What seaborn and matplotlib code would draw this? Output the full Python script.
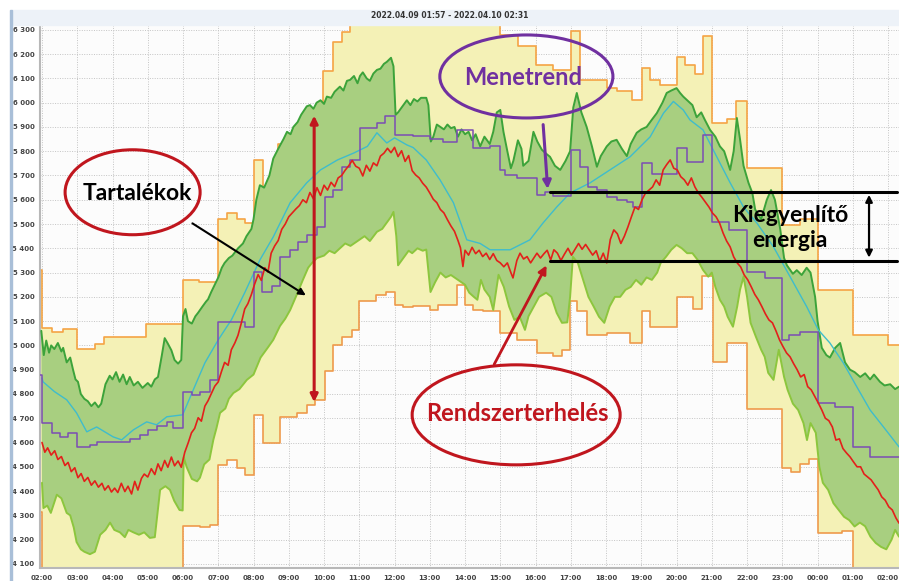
import numpy as np
import matplotlib
matplotlib.use("Agg")
import matplotlib.pyplot as plt
from matplotlib.patches import Ellipse, Rectangle
import seaborn as sns

# idő: órák 2022.04.09 02:00-tól, érték: MW
ido_cimkek = ["02:00", "03:00", "04:00", "05:00", "06:00", "07:00", "08:00", "09:00",
              "10:00", "11:00", "12:00", "13:00", "14:00", "15:00", "16:00", "17:00",
              "18:00", "19:00", "20:00", "21:00", "22:00", "23:00", "00:00", "01:00", "02:00"]
y_tickek = list(range(4100, 6301, 100))

T_START, T_END = -0.057, 24.31

# tartalék felső határ (lépcsős)
felso_t = [-0.06, 0.0, 0.27, 0.6, 1.0, 1.5, 1.75, 2.95, 4.0, 4.45, 5.0, 5.24, 5.52, 5.76,
           6.0, 6.27, 6.52, 6.7, 6.98, 7.32, 7.52, 7.97, 8.26, 8.51, 8.74, 13.0, 13.5,
           14.0, 14.5, 15.0, 15.26, 16.03, 16.3, 16.75, 17.02, 17.25, 17.53, 18.0, 18.24,
           18.52, 18.75, 19.0, 19.43, 19.7, 20.0, 21.0, 21.5, 22.0, 23.0, 24.0]
felso_mw = [5311, 5072, 5055, 5068, 4984, 5004, 5035, 5089, 5270, 5262, 5520, 5545, 5520, 5504,
            5762, 5649, 5711, 5830, 5860, 5902, 5950, 6132, 6252, 6293, 6400, 6279, 6234,
            6156, 6135, 6297, 6094, 6060, 6047, 6012, 6143, 6094, 6073, 6190, 6156,
            6119, 6275, 5918, 5933, 6005, 5730, 5495, 5520, 5229, 5043, 5002]

# tartalék alsó határ (lépcsős)
also_t = [-0.06, 0.0, 4.0, 4.48, 4.77, 5.0, 5.24, 5.52, 5.76, 6.0, 6.27, 6.75, 7.23, 7.52,
          7.74, 8.03, 8.26, 8.51, 8.79, 9.0, 9.48, 9.77, 10.0, 10.24, 10.52, 11.0, 11.23,
          11.77, 12.0, 12.23, 12.51, 13.0, 13.47, 14.04, 14.5, 14.75, 14.98, 15.18, 15.46,
          16.03, 16.68, 17.02, 17.25, 18.0, 18.48, 18.72, 19.02, 19.43, 20.0, 21.0, 21.25,
          21.5, 21.75, 22.0, 22.7, 23.0]
also_mw = [4315, 4000, 4256, 4250, 4260, 4508, 4526, 4497, 4467, 4714, 4600, 4705, 4722, 4755,
           4776, 4896, 5002, 5036, 5064, 5181, 5208, 5222, 5167, 5160, 5163, 5146, 5167,
           5249, 5167, 5146, 5140, 5050, 5023, 4968, 4957, 4982, 5181, 5140, 5043,
           5050, 5010, 5140, 5077, 5200, 5150, 5284, 4932, 5010, 4736, 4495, 4480,
           4510, 4530, 4228, 4236, 4000]

# felső szabályozási sáv (sötétzöld)
zold_t = [-0.02, 0.05, 0.12, 0.2, 0.26, 0.35, 0.45, 0.55, 0.6, 0.7, 0.8, 0.88, 0.95, 1.02,
          1.1, 1.2, 1.3, 1.4, 1.5, 1.6, 1.68, 1.8, 1.92, 2.0, 2.1, 2.2, 2.3, 2.4, 2.49, 2.6,
          2.72, 2.85, 3.0, 3.1, 3.2, 3.29, 3.4, 3.48, 3.56, 3.67, 3.76, 3.86, 3.95, 4.0,
          4.07, 4.14, 4.25, 4.35, 4.43, 4.55, 4.65, 4.71, 4.8, 4.9, 5.0, 5.1, 5.18, 5.3,
          5.4, 5.56, 5.7, 5.8, 5.94, 6.0, 6.08, 6.18, 6.3, 6.45, 6.56, 6.7, 6.85, 6.95,
          7.05, 7.13, 7.25, 7.35, 7.51, 7.6, 7.7, 7.79, 7.9, 8.0, 8.08, 8.2, 8.3, 8.45,
          8.55, 8.65, 8.74, 8.85, 8.95, 9.02, 9.1, 9.21, 9.3, 9.4, 9.5, 9.6, 9.7, 9.78,
          9.9, 9.97, 10.03, 10.1, 10.2, 10.35, 10.45, 10.55, 10.65, 10.75, 10.9, 10.96,
          11.03, 11.1, 11.2, 11.3, 11.4, 11.5, 11.6, 11.7, 11.8, 11.9, 12.0, 12.1, 12.2,
          12.3, 12.43, 12.55, 12.7, 12.8, 12.9, 13.0, 13.09, 13.2, 13.3, 13.37, 13.5,
          13.6, 13.65, 13.8, 13.94, 14.05, 14.18, 14.3, 14.41, 14.55, 14.7, 14.85, 14.98,
          15.07, 15.17, 15.3, 15.45, 15.6, 15.74, 15.85, 16.02, 16.15, 16.3, 16.45, 16.59,
          16.7, 16.87, 17.0, 17.15, 17.3, 17.44, 17.6, 17.72, 17.85, 18.0, 18.1, 18.19,
          18.3, 18.45, 18.57, 18.7, 18.8, 18.95, 19.1, 19.23, 19.35, 19.52, 19.62, 19.71,
          19.8, 19.9, 20.04, 20.15, 20.23, 20.4, 20.56, 20.68, 20.79, 20.94, 21.05, 21.13,
          21.3, 21.41, 21.55, 21.69, 21.8, 21.93, 22.0, 22.12, 22.25, 22.35, 22.5, 22.64,
          22.78, 22.92, 23.05, 23.21, 23.35, 23.49, 23.6, 23.77, 23.9, 24.06, 24.2, 24.31]
zold_mw = [5060, 4960, 5020, 4970, 5000, 4985, 5010, 4975, 4990, 4930, 4950, 4900, 4860, 4850,
           4800, 4780, 4770, 4750, 4765, 4745, 4760, 4840, 4875, 4860, 4890, 4850, 4880, 4840, 4870, 4835,
           4850, 4825, 4845, 4830, 4860, 4870, 4960, 5030, 5010, 4980, 4940, 4925, 4940, 5120,
           5150, 5100, 5090, 5120, 5135, 5160, 5180, 5190, 5220, 5250, 5280, 5320, 5340, 5360,
           5370, 5400, 5420, 5450, 5480, 5520, 5600, 5660, 5650, 5700, 5770, 5810, 5850, 5880,
           5870, 5900, 5920, 5950, 5985, 5990, 5975, 6000, 6010, 5995, 6025, 6020, 6045, 6066,
           6050, 6090, 6094, 6110, 6080, 6110, 6125, 6100, 6090, 6120, 6135, 6140, 6160, 6168,
           6185, 6150, 5950, 5960, 5980, 6010, 5990, 6015, 6005, 6020, 6020, 5990,
           5840, 5860, 5910, 5900, 5890, 5910, 5895, 5900, 5860, 5890, 5870, 5880, 5845,
           5870, 5820, 5860, 5830, 5880, 5960, 5970, 5880, 5800, 5730, 5760, 5845,
           5810, 5740, 5760, 5880, 5840, 5806, 5790, 5777, 5740, 5723, 5760, 5800,
           5980, 6040, 5960, 5900, 5820, 5736, 5780, 5820, 5840, 5847, 5810, 5780,
           5830, 5876, 5890, 5900, 5930, 5957, 6000, 6040, 6050, 6060, 6040, 6025,
           6010, 5990, 5940, 5960, 5930, 5888, 5860, 5820, 5800, 5723, 5800, 5937,
           5850, 5740, 5670, 5628, 5560, 5520, 5600, 5640, 5600, 5480, 5360, 5330,
           5295, 5310, 5290, 5320, 5300, 5200, 5100, 4990, 4960, 4950, 4990, 5010,
           4930, 4900, 4890, 4870, 4885, 4860, 4880, 4850, 4835, 4840, 4820, 4830]

# alsó szabályozási sáv (világoszöld)
vzold_t = [0.0, 0.04, 0.15, 0.25, 0.42, 0.55, 0.7, 0.8, 0.9, 0.98, 1.1, 1.2, 1.36, 1.5, 1.65,
           1.8, 1.93, 2.05, 2.21, 2.35, 2.45, 2.59, 2.75, 2.9, 3.06, 3.2, 3.35, 3.5, 3.63,
           3.75, 3.9, 3.99, 4.02, 4.1, 4.25, 4.4, 4.48, 4.6, 4.75, 4.86, 4.95, 5.05, 5.2,
           5.3, 5.43, 5.6, 5.81, 6.0, 6.2, 6.4, 6.56, 6.75, 6.9, 7.04, 7.2, 7.4, 7.55, 7.66,
           7.8, 8.0, 8.15, 8.3, 8.45, 8.6, 8.75, 9.0, 9.15, 9.3, 9.5, 9.65, 9.8, 9.9, 9.97,
           10.05, 10.1, 10.25, 10.4, 10.5, 10.65, 10.8, 10.9, 11.02, 11.15, 11.3, 11.45,
           11.6, 11.8, 12.0, 12.12, 12.25, 12.35, 12.45, 12.55, 12.7, 12.8, 12.95, 13.1,
           13.25, 13.4, 13.55, 13.7, 13.8, 13.95, 14.1, 14.3, 14.45, 14.6, 14.75, 14.9,
           14.98, 15.06, 15.2, 15.35, 15.5, 15.65, 15.8, 15.95, 16.1, 16.25, 16.4, 16.55,
           16.7, 16.85, 17.0, 17.15, 17.3, 17.45, 17.55, 17.7, 17.85, 18.0, 18.15, 18.3,
           18.45, 18.6, 18.75, 18.9, 19.0, 19.1, 19.23, 19.35, 19.45, 19.6, 19.72, 19.8,
           19.9, 20.0, 20.1, 20.25, 20.4, 20.5, 20.6, 20.75, 20.9, 21.05, 21.15, 21.3,
           21.45, 21.6, 21.7, 21.8, 21.95, 22.05, 22.15, 22.3, 22.45, 22.6, 22.75, 22.9,
           23.05, 23.2, 23.35, 23.5, 23.65, 23.8, 23.95, 24.1, 24.2, 24.31]
vzold_mw = [4434, 4330, 4340, 4310, 4385, 4370, 4310, 4300, 4250, 4190, 4160, 4150, 4140, 4150, 4220,
            4240, 4270, 4240, 4230, 4210, 4240, 4230, 4220, 4230, 4207, 4210, 4405, 4420, 4405,
            4360, 4322, 4320, 4540, 4500, 4450, 4440, 4455, 4510, 4530, 4611, 4660, 4722, 4740,
            4780, 4804, 4820, 4858, 4880, 4950, 4990, 5023, 5080, 5110, 5146, 5200, 5270, 5320, 5340,
            5360, 5370, 5390, 5380, 5400, 5420, 5410, 5435, 5450, 5430, 5468, 5480, 5510, 5530, 5550,
            5450, 5330, 5360, 5390, 5380, 5400, 5390, 5395, 5220, 5260, 5300, 5280,
            5290, 5270, 5250, 5217, 5200, 5188, 5270, 5230, 5200, 5146, 5291, 5241,
            5160, 5105, 5118, 5064, 5120, 5160, 5200, 5217, 5200, 5134, 5093, 5095,
            5200, 5365, 5340, 5270, 5200, 5160, 5118, 5093, 5160, 5200, 5200, 5229,
            5241, 5270, 5250, 5280, 5270, 5300, 5340, 5365, 5394, 5414, 5400, 5380,
            5380, 5352, 5311, 5283, 5300, 5241, 5188, 5160, 5118, 5077, 5160, 5229,
            5283, 5200, 5093, 5036, 4982, 4953, 4887, 4858, 4982, 4870, 4817, 4760,
            4734, 4680, 4610, 4680, 4640, 4500, 4434, 4405, 4350, 4322, 4294, 4280,
            4254, 4270, 4255, 4212, 4186, 4170, 4160, 4200, 4240, 4212]

# rendszerterhelés (piros)
terheles_t = [0.0, 0.08, 0.16, 0.26, 0.36, 0.45, 0.55, 0.65, 0.74, 0.83, 0.93, 1.02, 1.11, 1.2,
              1.3, 1.4, 1.5, 1.6, 1.7, 1.78, 1.88, 1.97, 2.06, 2.15, 2.25, 2.35, 2.44, 2.54,
              2.63, 2.72, 2.82, 2.9, 3.0, 3.1, 3.2, 3.29, 3.38, 3.48, 3.57, 3.67, 3.76, 3.86,
              3.95, 4.05, 4.15, 4.24, 4.33, 4.43, 4.52, 4.62, 4.71, 4.8, 4.9, 5.0, 5.09, 5.18,
              5.28, 5.37, 5.47, 5.56, 5.65, 5.75, 5.84, 5.94, 6.03, 6.13, 6.22, 6.32, 6.41,
              6.5, 6.6, 6.7, 6.8, 6.9, 7.0, 7.1, 7.2, 7.3, 7.4, 7.5, 7.6, 7.7, 7.8, 7.9, 8.0,
              8.1, 8.2, 8.3, 8.4, 8.5, 8.6, 8.7, 8.8, 8.9, 9.0, 9.1, 9.2, 9.3, 9.4, 9.5, 9.6,
              9.7, 9.8, 9.9, 10.0, 10.1, 10.2, 10.3, 10.4, 10.5, 10.6, 10.7, 10.8, 10.9, 11.0,
              11.1, 11.2, 11.3, 11.4, 11.5, 11.6, 11.7, 11.8, 11.87, 11.94, 12.0, 12.1, 12.2,
              12.3, 12.4, 12.5, 12.6, 12.7, 12.8, 12.9, 13.0, 13.1, 13.2, 13.3, 13.36, 13.47,
              13.56, 13.66, 13.76, 13.86, 13.96, 14.04, 14.14, 14.24, 14.33, 14.43, 14.52,
              14.62, 14.72, 14.82, 14.92, 15.02, 15.12, 15.22, 15.32, 15.42, 15.52, 15.62,
              15.72, 15.82, 15.92, 16.02, 16.12, 16.22, 16.32, 16.42, 16.52, 16.62, 16.72,
              16.82, 16.92, 17.02, 17.12, 17.22, 17.32, 17.42, 17.52, 17.62, 17.72, 17.82,
              17.92, 18.02, 18.12, 18.22, 18.32, 18.42, 18.52, 18.62, 18.72, 18.82, 18.92,
              19.02, 19.12, 19.22, 19.32, 19.42, 19.52, 19.62, 19.72, 19.82, 19.92, 20.02,
              20.12, 20.22, 20.32, 20.42, 20.52, 20.62, 20.72, 20.82, 20.92, 21.02, 21.12,
              21.22, 21.32, 21.42, 21.52, 21.62, 21.72, 21.82, 21.92, 22.02, 22.12, 22.22,
              22.32, 22.42, 22.52, 22.62, 22.72, 22.82, 22.92, 23.02, 23.12, 23.22, 23.32,
              23.42, 23.52, 23.62, 23.72, 23.82, 23.92, 24.02, 24.12, 24.22, 24.31]
terheles_mw = [4600, 4560, 4578, 4548, 4566, 4530, 4542, 4505, 4518, 4480, 4496, 4455, 4472, 4440,
               4456, 4424, 4442, 4416, 4432, 4404, 4422, 4396, 4412, 4394, 4432, 4398, 4420, 4388,
               4440, 4404, 4452, 4470, 4458, 4492, 4468, 4512, 4484, 4526, 4498, 4540, 4504, 4524,
               4498, 4560, 4600, 4640, 4658, 4702, 4688, 4750, 4772, 4800, 4832, 4850, 4892, 4930,
               4918, 4982, 5010, 5042, 5090, 5150, 5172, 5210, 5252, 5292, 5268, 5320, 5302,
               5380, 5410, 5432, 5478, 5500, 5530, 5546, 5562, 5576, 5600, 5588, 5630, 5604, 5650, 5618, 5660,
               5640, 5672, 5654, 5690, 5700, 5722, 5740, 5762, 5738, 5730, 5698, 5742, 5718, 5752, 5740, 5780,
               5792, 5812, 5794, 5816, 5778, 5802, 5758, 5782, 5720, 5702, 5690, 5668, 5652, 5628,
               5602, 5588, 5560, 5546, 5518, 5492, 5470, 5432, 5402, 5325, 5392, 5372, 5404,
               5378, 5392, 5366, 5380, 5354, 5378, 5350, 5340, 5324, 5340, 5300, 5278, 5350,
               5380, 5356, 5366, 5340, 5362, 5380, 5360, 5378, 5392, 5352, 5394,
               5380, 5350, 5376, 5400, 5372, 5396, 5420, 5396, 5416, 5394, 5372,
               5390, 5346, 5380, 5340, 5436, 5476, 5460, 5420, 5450, 5488, 5530,
               5570, 5560, 5600, 5628, 5640, 5653, 5682, 5660, 5723, 5745, 5764,
               5730, 5723, 5695, 5682, 5660, 5690, 5653, 5628, 5610, 5590, 5570,
               5545, 5530, 5504, 5463, 5430, 5406, 5365, 5340, 5323, 5290, 5270,
               5241, 5210, 5188, 5160, 5130, 5105, 5093, 5060, 5023, 4995, 4969,
               4953, 4925, 4900, 4870, 4880, 4830, 4817, 4790, 4763, 4734, 4700,
               4690, 4664, 4610, 4615, 4575, 4557, 4541, 4520, 4500, 4500, 4470,
               4458, 4446, 4425, 4405, 4376, 4362, 4335, 4322, 4290, 4268]

# előrejelzés (türkiz)
elore_t = [0.0, 0.03, 0.35, 0.7, 0.98, 1.27, 1.55, 2.02, 2.26, 2.59, 2.97, 3.25, 3.54, 3.99,
           4.3, 4.62, 5.0, 5.37, 5.75, 6.18, 6.56, 7.04, 7.51, 7.9, 8.38, 8.85, 9.23, 9.5,
           9.78, 10.0, 10.35, 10.53, 10.9, 11.29, 11.67, 12.05, 12.43, 12.71, 13.28, 13.84,
           14.21, 14.6, 14.98, 15.55, 16.11, 16.68, 17.25, 17.63, 17.91, 18.19, 18.38, 18.75,
           19.14, 19.52, 19.9, 20.28, 20.75, 21.22, 21.69, 22.02, 22.35, 22.73, 23.11, 23.49,
           23.87, 24.31]
elore_mw = [4866, 4850, 4810, 4776, 4722, 4644, 4664, 4623, 4611, 4652, 4685, 4673, 4706, 4714,
            4820, 4928, 5023, 5105, 5217, 5352, 5447, 5588, 5670, 5723, 5764, 5793, 5820, 5876,
            5834, 5855, 5826, 5815, 5764, 5682, 5588, 5435, 5420, 5394, 5394, 5435,
            5504, 5570, 5628, 5670, 5723, 5777, 5859, 5957, 6005, 5970, 5929, 5888,
            5777, 5670, 5570, 5504, 5406, 5283, 5160, 5064, 5010, 4928, 4830, 4734,
            4664, 4582]

# menetrend (lila, lépcsős)
menetrend_t = [-0.06, 0.0, 0.28, 0.51, 0.74, 0.99, 1.36, 1.56, 2.5, 2.78, 3.0, 3.26, 3.55, 3.72,
               4.0, 4.26, 4.48, 4.77, 5.0, 5.76, 6.0, 6.23, 6.52, 6.75, 7.04, 7.27, 7.51, 7.79,
               8.03, 8.26, 8.5, 8.74, 9.02, 9.5, 9.73, 10.01, 10.53, 11.01, 11.38, 11.76, 12.23,
               12.7, 12.99, 13.14, 13.48, 14.04, 14.27, 14.5, 15.0, 15.26, 15.49, 15.74, 16.03,
               16.31, 16.6, 16.77, 17.02, 17.3, 18.0, 18.3, 18.75, 19.0, 19.5, 20.0, 20.5,
               20.98, 21.2, 21.5, 22.0, 22.5, 23.0, 23.5]
menetrend_mw = [4879, 4680, 4640, 4623, 4640, 4582, 4590, 4603, 4615, 4631, 4652, 4668, 4685, 4660,
                4809, 4796, 4809, 4858, 5098, 5077, 5304, 5220, 5245, 5365, 5394, 5426, 5455, 5488,
                5612, 5641, 5736, 5764, 5896, 5917, 5946, 5866, 5862, 5850, 5839, 5888, 5814,
                5820, 5723, 5702, 5690, 5620, 5633, 5616, 5806, 5736, 5653, 5641, 5612,
                5600, 5590, 5570, 5750, 5705, 5814, 5755, 5867, 5509, 5476, 5304, 5278,
                5023, 5043, 5056, 4763, 4747, 4582, 4541]

SARGA = "#f4f1b6"
NARANCS = "#f5a445"
ZOLD_KITOLT = "#a8cf80"
SOTETZOLD = "#3ca33a"
VILAGOSZOLD = "#8cc63e"
PIROS = "#e3201b"
TURKIZ = "#3fbccc"
LILA = "#7b4db4"
SOTETPIROS = "#c0161e"
ANNOT_LILA = "#7030a0"


def lepcso(t, v):
    # steps-post görbe csúcspontjai a kitöltéshez
    xs, ys = [], []
    for i in range(len(t)):
        t2 = t[i + 1] if i + 1 < len(t) else T_END
        xs += [t[i], t2]
        ys += [v[i], v[i]]
    return np.array(xs), np.array(ys)


sns.set_style("white")
plt.rcParams["font.family"] = ["Lato", "DejaVu Sans"]

fig = plt.figure(figsize=(8.99, 5.81), dpi=100)
ax = fig.add_axes([40 / 899, 13 / 581, 859 / 899, 543 / 581])
ax.set_facecolor("#fcfcfc")

# fejléc sáv és bal keret
fig.patches.append(Rectangle((12 / 899, 556 / 581), 887 / 899, 15 / 581,
                             transform=fig.transFigure, color="#edf2f8", zorder=0))
fig.patches.append(Rectangle((9.5 / 899, 0), 2 / 899, 571 / 581,
                             transform=fig.transFigure, color="#a9bfd8", zorder=0))
fig.text(450 / 899, 1 - 15.5 / 581, "2022.04.09 01:57 - 2022.04.10 02:31",
         ha="center", va="center", fontsize=5.5, fontweight="bold", color="#333333",
         family="DejaVu Sans")

# tartalék sáv (sárga)
fx, fy = lepcso(felso_t, felso_mw)
ax_, ay_ = lepcso(also_t, also_mw)
ax.fill(np.r_[fx, ax_[::-1]], np.r_[fy, ay_[::-1]], color=SARGA, lw=0, zorder=1)
sns.lineplot(x=felso_t + [T_END], y=felso_mw + [felso_mw[-1]], ax=ax, color=NARANCS, lw=1.2,
             drawstyle="steps-post", estimator=None, sort=False, zorder=2)
sns.lineplot(x=also_t + [T_END], y=also_mw + [also_mw[-1]], ax=ax, color="#ee9a4c", lw=1.2,
             drawstyle="steps-post", estimator=None, sort=False, zorder=2)

# szabályozási sáv (zöld)
ax.fill(np.r_[zold_t, vzold_t[::-1]], np.r_[zold_mw, vzold_mw[::-1]],
        color=ZOLD_KITOLT, lw=0, zorder=3)
sns.lineplot(x=vzold_t, y=vzold_mw, ax=ax, color=VILAGOSZOLD, lw=1.4,
             estimator=None, sort=False, zorder=4)
sns.lineplot(x=zold_t, y=zold_mw, ax=ax, color=SOTETZOLD, lw=1.4,
             estimator=None, sort=False, zorder=4)

sns.lineplot(x=elore_t, y=elore_mw, ax=ax, color=TURKIZ, lw=1.0,
             estimator=None, sort=False, zorder=5)
sns.lineplot(x=menetrend_t + [T_END], y=menetrend_mw + [menetrend_mw[-1]], ax=ax, color=LILA,
             lw=1.1, drawstyle="steps-post", estimator=None, sort=False, zorder=5)
sns.lineplot(x=terheles_t, y=terheles_mw, ax=ax, color=PIROS, lw=1.2,
             estimator=None, sort=False, zorder=6)

# tengelyek
ax.set_xlim(T_START, T_END)
ax.set_ylim(4083, 6320)
ax.set_xticks(range(25))
ax.set_xticklabels(ido_cimkek)
ax.set_yticks(y_tickek)
ax.set_yticklabels([f"{v:,}".replace(",", " ") for v in y_tickek])
for lab in ax.get_xticklabels() + ax.get_yticklabels():
    lab.set_family("DejaVu Sans")
    lab.set_fontweight("bold")
ax.tick_params(axis="both", length=0, labelsize=5, labelcolor="#444444")
ax.tick_params(axis="x", pad=5)
ax.tick_params(axis="y", pad=4)
ax.grid(True, color="#c4c4c4", linestyle=(0, (1, 1.5)), lw=0.7)
ax.set_axisbelow(True)
ax.set_xlabel("")
ax.set_ylabel("")
for s in ["top", "right"]:
    ax.spines[s].set_visible(False)
ax.spines["left"].set_color("#b8b8b8")
ax.spines["bottom"].set_color("#b8b8b8")
ax.spines["left"].set_linewidth(1.5)
ax.spines["bottom"].set_linewidth(1.5)

# annotációk
ax.add_patch(Ellipse((2.57, 5631), 3.83, 350, fill=False, ec=SOTETPIROS, lw=2.2, zorder=8))
ax.text(2.7, 5625, "Tartalékok", ha="center", va="center", fontsize=16.5,
        fontweight="bold", color="black", zorder=9)
ax.annotate("", xy=(7.55, 5200), xytext=(4.2, 5509),
            arrowprops=dict(arrowstyle="-|>", color="black", lw=1.5, mutation_scale=10), zorder=9)
ax.annotate("", xy=(7.72, 5958), xytext=(7.72, 4755),
            arrowprops=dict(arrowstyle="<|-|>", color=SOTETPIROS, lw=2.2, mutation_scale=11), zorder=9)

ax.add_patch(Ellipse((13.74, 6108), 4.91, 342, fill=False, ec=ANNOT_LILA, lw=2.2, zorder=8))
ax.text(13.65, 6103, "Menetrend", ha="center", va="center", fontsize=17,
        fontweight="bold", color=ANNOT_LILA, zorder=9)
ax.annotate("", xy=(14.35, 5633), xytext=(14.21, 5921),
            arrowprops=dict(arrowstyle="-|>", color=ANNOT_LILA, lw=2.2, mutation_scale=12), zorder=9)

ax.plot([14.41, 24.26], [5634, 5634], color="black", lw=2.2, zorder=9)
ax.plot([14.41, 24.26], [5348, 5348], color="black", lw=2.2, zorder=9)
ax.annotate("", xy=(23.46, 5632), xytext=(23.46, 5350),
            arrowprops=dict(arrowstyle="<|-|>", color="black", lw=1.6, mutation_scale=10), zorder=9)
ax.text(21.22, 5484, "Kiegyenlítő\nenergia", ha="center", va="center", fontsize=16.5,
        fontweight="bold", color="black", linespacing=1.25, zorder=9)

ax.add_patch(Ellipse((13.45, 4714), 5.9, 412, fill=False, ec=SOTETPIROS, lw=2.2, zorder=8))
ax.text(13.48, 4718, "Rendszerterhelés", ha="center", va="center", fontsize=17,
        fontweight="bold", color=SOTETPIROS, zorder=9)
ax.annotate("", xy=(14.35, 5340), xytext=(12.79, 4912),
            arrowprops=dict(arrowstyle="-|>", color=SOTETPIROS, lw=2, mutation_scale=12), zorder=9)

fig.savefig("out.png", dpi=100)
